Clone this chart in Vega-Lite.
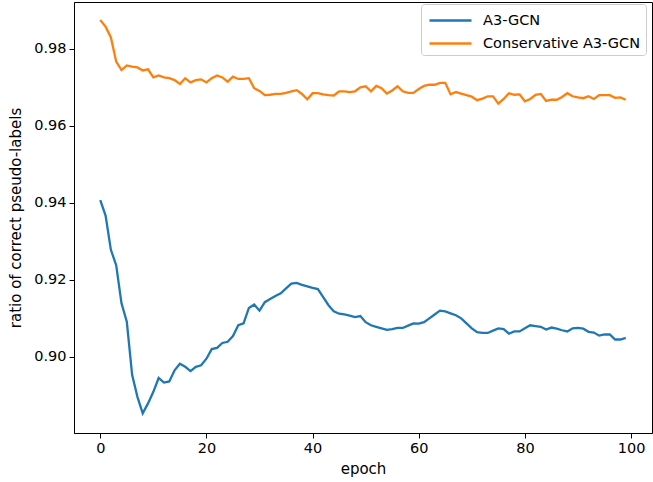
{
  "$schema": "https://vega.github.io/schema/vega-lite/v6.json",
  "width": 578,
  "height": 431,
  "autosize": {"type": "none"},
  "padding": {"left": 74, "top": 2, "right": 1, "bottom": 49},
  "background": "white",
  "config": {
    "view": {"stroke": "black", "strokeWidth": 1},
    "font": "DejaVu Sans",
    "axis": {
      "grid": false,
      "domainColor": "black",
      "domainWidth": 1,
      "tickColor": "black",
      "tickWidth": 1,
      "tickSize": 5,
      "labelFont": "DejaVu Sans",
      "labelFontSize": 14.5,
      "labelColor": "black",
      "labelPadding": 3,
      "titleFont": "DejaVu Sans",
      "titleFontSize": 15,
      "titleFontWeight": "normal",
      "titleColor": "black"
    }
  },
  "data": {
    "values": [
      {"epoch": 0, "A3-GCN": 0.9407, "Conservative A3-GCN": 0.9875},
      {"epoch": 1, "A3-GCN": 0.9367, "Conservative A3-GCN": 0.9858},
      {"epoch": 2, "A3-GCN": 0.9278, "Conservative A3-GCN": 0.9830},
      {"epoch": 3, "A3-GCN": 0.9238, "Conservative A3-GCN": 0.9767},
      {"epoch": 4, "A3-GCN": 0.9139, "Conservative A3-GCN": 0.9745},
      {"epoch": 5, "A3-GCN": 0.9091, "Conservative A3-GCN": 0.9757},
      {"epoch": 6, "A3-GCN": 0.8953, "Conservative A3-GCN": 0.9754},
      {"epoch": 7, "A3-GCN": 0.8896, "Conservative A3-GCN": 0.9752},
      {"epoch": 8, "A3-GCN": 0.8853, "Conservative A3-GCN": 0.9744},
      {"epoch": 9, "A3-GCN": 0.8879, "Conservative A3-GCN": 0.9747},
      {"epoch": 10, "A3-GCN": 0.8909, "Conservative A3-GCN": 0.9726},
      {"epoch": 11, "A3-GCN": 0.8945, "Conservative A3-GCN": 0.9731},
      {"epoch": 12, "A3-GCN": 0.8933, "Conservative A3-GCN": 0.9726},
      {"epoch": 13, "A3-GCN": 0.8936, "Conservative A3-GCN": 0.9724},
      {"epoch": 14, "A3-GCN": 0.8965, "Conservative A3-GCN": 0.9719},
      {"epoch": 15, "A3-GCN": 0.8982, "Conservative A3-GCN": 0.9709},
      {"epoch": 16, "A3-GCN": 0.8974, "Conservative A3-GCN": 0.9724},
      {"epoch": 17, "A3-GCN": 0.8963, "Conservative A3-GCN": 0.9713},
      {"epoch": 18, "A3-GCN": 0.8974, "Conservative A3-GCN": 0.9719},
      {"epoch": 19, "A3-GCN": 0.8978, "Conservative A3-GCN": 0.9721},
      {"epoch": 20, "A3-GCN": 0.8995, "Conservative A3-GCN": 0.9713},
      {"epoch": 21, "A3-GCN": 0.9020, "Conservative A3-GCN": 0.9724},
      {"epoch": 22, "A3-GCN": 0.9023, "Conservative A3-GCN": 0.9731},
      {"epoch": 23, "A3-GCN": 0.9036, "Conservative A3-GCN": 0.9726},
      {"epoch": 24, "A3-GCN": 0.9039, "Conservative A3-GCN": 0.9715},
      {"epoch": 25, "A3-GCN": 0.9054, "Conservative A3-GCN": 0.9728},
      {"epoch": 26, "A3-GCN": 0.9082, "Conservative A3-GCN": 0.9722},
      {"epoch": 27, "A3-GCN": 0.9087, "Conservative A3-GCN": 0.9722},
      {"epoch": 28, "A3-GCN": 0.9127, "Conservative A3-GCN": 0.9724},
      {"epoch": 29, "A3-GCN": 0.9136, "Conservative A3-GCN": 0.9698},
      {"epoch": 30, "A3-GCN": 0.9120, "Conservative A3-GCN": 0.9691},
      {"epoch": 31, "A3-GCN": 0.9142, "Conservative A3-GCN": 0.9680},
      {"epoch": 32, "A3-GCN": 0.9150, "Conservative A3-GCN": 0.9681},
      {"epoch": 33, "A3-GCN": 0.9158, "Conservative A3-GCN": 0.9683},
      {"epoch": 34, "A3-GCN": 0.9165, "Conservative A3-GCN": 0.9683},
      {"epoch": 35, "A3-GCN": 0.9178, "Conservative A3-GCN": 0.9686},
      {"epoch": 36, "A3-GCN": 0.9190, "Conservative A3-GCN": 0.9690},
      {"epoch": 37, "A3-GCN": 0.9192, "Conservative A3-GCN": 0.9693},
      {"epoch": 38, "A3-GCN": 0.9187, "Conservative A3-GCN": 0.9683},
      {"epoch": 39, "A3-GCN": 0.9183, "Conservative A3-GCN": 0.9669},
      {"epoch": 40, "A3-GCN": 0.9179, "Conservative A3-GCN": 0.9685},
      {"epoch": 41, "A3-GCN": 0.9176, "Conservative A3-GCN": 0.9685},
      {"epoch": 42, "A3-GCN": 0.9155, "Conservative A3-GCN": 0.9682},
      {"epoch": 43, "A3-GCN": 0.9134, "Conservative A3-GCN": 0.9680},
      {"epoch": 44, "A3-GCN": 0.9118, "Conservative A3-GCN": 0.9679},
      {"epoch": 45, "A3-GCN": 0.9112, "Conservative A3-GCN": 0.9690},
      {"epoch": 46, "A3-GCN": 0.9110, "Conservative A3-GCN": 0.9690},
      {"epoch": 47, "A3-GCN": 0.9107, "Conservative A3-GCN": 0.9688},
      {"epoch": 48, "A3-GCN": 0.9103, "Conservative A3-GCN": 0.9690},
      {"epoch": 49, "A3-GCN": 0.9106, "Conservative A3-GCN": 0.9700},
      {"epoch": 50, "A3-GCN": 0.9090, "Conservative A3-GCN": 0.9703},
      {"epoch": 51, "A3-GCN": 0.9082, "Conservative A3-GCN": 0.9690},
      {"epoch": 52, "A3-GCN": 0.9078, "Conservative A3-GCN": 0.9704},
      {"epoch": 53, "A3-GCN": 0.9074, "Conservative A3-GCN": 0.9698},
      {"epoch": 54, "A3-GCN": 0.9070, "Conservative A3-GCN": 0.9684},
      {"epoch": 55, "A3-GCN": 0.9072, "Conservative A3-GCN": 0.9692},
      {"epoch": 56, "A3-GCN": 0.9075, "Conservative A3-GCN": 0.9703},
      {"epoch": 57, "A3-GCN": 0.9075, "Conservative A3-GCN": 0.9690},
      {"epoch": 58, "A3-GCN": 0.9081, "Conservative A3-GCN": 0.9686},
      {"epoch": 59, "A3-GCN": 0.9087, "Conservative A3-GCN": 0.9686},
      {"epoch": 60, "A3-GCN": 0.9086, "Conservative A3-GCN": 0.9696},
      {"epoch": 61, "A3-GCN": 0.9090, "Conservative A3-GCN": 0.9704},
      {"epoch": 62, "A3-GCN": 0.9100, "Conservative A3-GCN": 0.9707},
      {"epoch": 63, "A3-GCN": 0.9110, "Conservative A3-GCN": 0.9707},
      {"epoch": 64, "A3-GCN": 0.9120, "Conservative A3-GCN": 0.9712},
      {"epoch": 65, "A3-GCN": 0.9118, "Conservative A3-GCN": 0.9712},
      {"epoch": 66, "A3-GCN": 0.9113, "Conservative A3-GCN": 0.9682},
      {"epoch": 67, "A3-GCN": 0.9108, "Conservative A3-GCN": 0.9688},
      {"epoch": 68, "A3-GCN": 0.9100, "Conservative A3-GCN": 0.9684},
      {"epoch": 69, "A3-GCN": 0.9087, "Conservative A3-GCN": 0.9680},
      {"epoch": 70, "A3-GCN": 0.9074, "Conservative A3-GCN": 0.9676},
      {"epoch": 71, "A3-GCN": 0.9064, "Conservative A3-GCN": 0.9667},
      {"epoch": 72, "A3-GCN": 0.9062, "Conservative A3-GCN": 0.9671},
      {"epoch": 73, "A3-GCN": 0.9062, "Conservative A3-GCN": 0.9677},
      {"epoch": 74, "A3-GCN": 0.9068, "Conservative A3-GCN": 0.9677},
      {"epoch": 75, "A3-GCN": 0.9074, "Conservative A3-GCN": 0.9658},
      {"epoch": 76, "A3-GCN": 0.9072, "Conservative A3-GCN": 0.9670},
      {"epoch": 77, "A3-GCN": 0.9060, "Conservative A3-GCN": 0.9685},
      {"epoch": 78, "A3-GCN": 0.9066, "Conservative A3-GCN": 0.9681},
      {"epoch": 79, "A3-GCN": 0.9066, "Conservative A3-GCN": 0.9682},
      {"epoch": 80, "A3-GCN": 0.9074, "Conservative A3-GCN": 0.9664},
      {"epoch": 81, "A3-GCN": 0.9082, "Conservative A3-GCN": 0.9670},
      {"epoch": 82, "A3-GCN": 0.9080, "Conservative A3-GCN": 0.9681},
      {"epoch": 83, "A3-GCN": 0.9078, "Conservative A3-GCN": 0.9683},
      {"epoch": 84, "A3-GCN": 0.9071, "Conservative A3-GCN": 0.9665},
      {"epoch": 85, "A3-GCN": 0.9076, "Conservative A3-GCN": 0.9668},
      {"epoch": 86, "A3-GCN": 0.9073, "Conservative A3-GCN": 0.9668},
      {"epoch": 87, "A3-GCN": 0.9069, "Conservative A3-GCN": 0.9675},
      {"epoch": 88, "A3-GCN": 0.9066, "Conservative A3-GCN": 0.9685},
      {"epoch": 89, "A3-GCN": 0.9074, "Conservative A3-GCN": 0.9677},
      {"epoch": 90, "A3-GCN": 0.9075, "Conservative A3-GCN": 0.9674},
      {"epoch": 91, "A3-GCN": 0.9073, "Conservative A3-GCN": 0.9672},
      {"epoch": 92, "A3-GCN": 0.9065, "Conservative A3-GCN": 0.9677},
      {"epoch": 93, "A3-GCN": 0.9063, "Conservative A3-GCN": 0.9670},
      {"epoch": 94, "A3-GCN": 0.9055, "Conservative A3-GCN": 0.9680},
      {"epoch": 95, "A3-GCN": 0.9058, "Conservative A3-GCN": 0.9680},
      {"epoch": 96, "A3-GCN": 0.9058, "Conservative A3-GCN": 0.9680},
      {"epoch": 97, "A3-GCN": 0.9045, "Conservative A3-GCN": 0.9673},
      {"epoch": 98, "A3-GCN": 0.9045, "Conservative A3-GCN": 0.9674},
      {"epoch": 99, "A3-GCN": 0.9049, "Conservative A3-GCN": 0.9668}
    ]
  },
  "transform": [
    {"fold": ["A3-GCN", "Conservative A3-GCN"], "as": ["series", "ratio"]}
  ],
  "mark": {"type": "line", "strokeWidth": 2.3, "clip": true},
  "encoding": {
    "x": {
      "field": "epoch",
      "type": "quantitative",
      "scale": {"domain": [-4.95, 103.95], "nice": false, "zero": false},
      "axis": {"values": [0, 20, 40, 60, 80, 100], "title": "epoch", "titlePadding": 7}
    },
    "y": {
      "field": "ratio",
      "type": "quantitative",
      "scale": {"domain": [0.8802, 0.9922], "nice": false, "zero": false},
      "axis": {"values": [0.90, 0.92, 0.94, 0.96, 0.98], "format": ".2f", "title": "ratio of correct pseudo-labels", "titlePadding": 10}
    },
    "color": {
      "field": "series",
      "type": "nominal",
      "scale": {"domain": ["A3-GCN", "Conservative A3-GCN"], "range": ["#1f77b4", "#ff7f0e"]},
      "legend": {
        "title": null,
        "orient": "none",
        "legendX": 347,
        "legendY": 2,
        "symbolType": "M-0.8,0L3.4,0",
        "symbolSize": 400,
        "symbolStrokeWidth": 2.5,
        "labelFont": "DejaVu Sans",
        "labelFontSize": 14.5,
        "labelColor": "black",
        "labelLimit": 300,
        "labelOffset": 34,
        "rowPadding": 5,
        "fillColor": "white",
        "strokeColor": "#cccccc",
        "cornerRadius": 3,
        "padding": 5
      }
    }
  }
}
